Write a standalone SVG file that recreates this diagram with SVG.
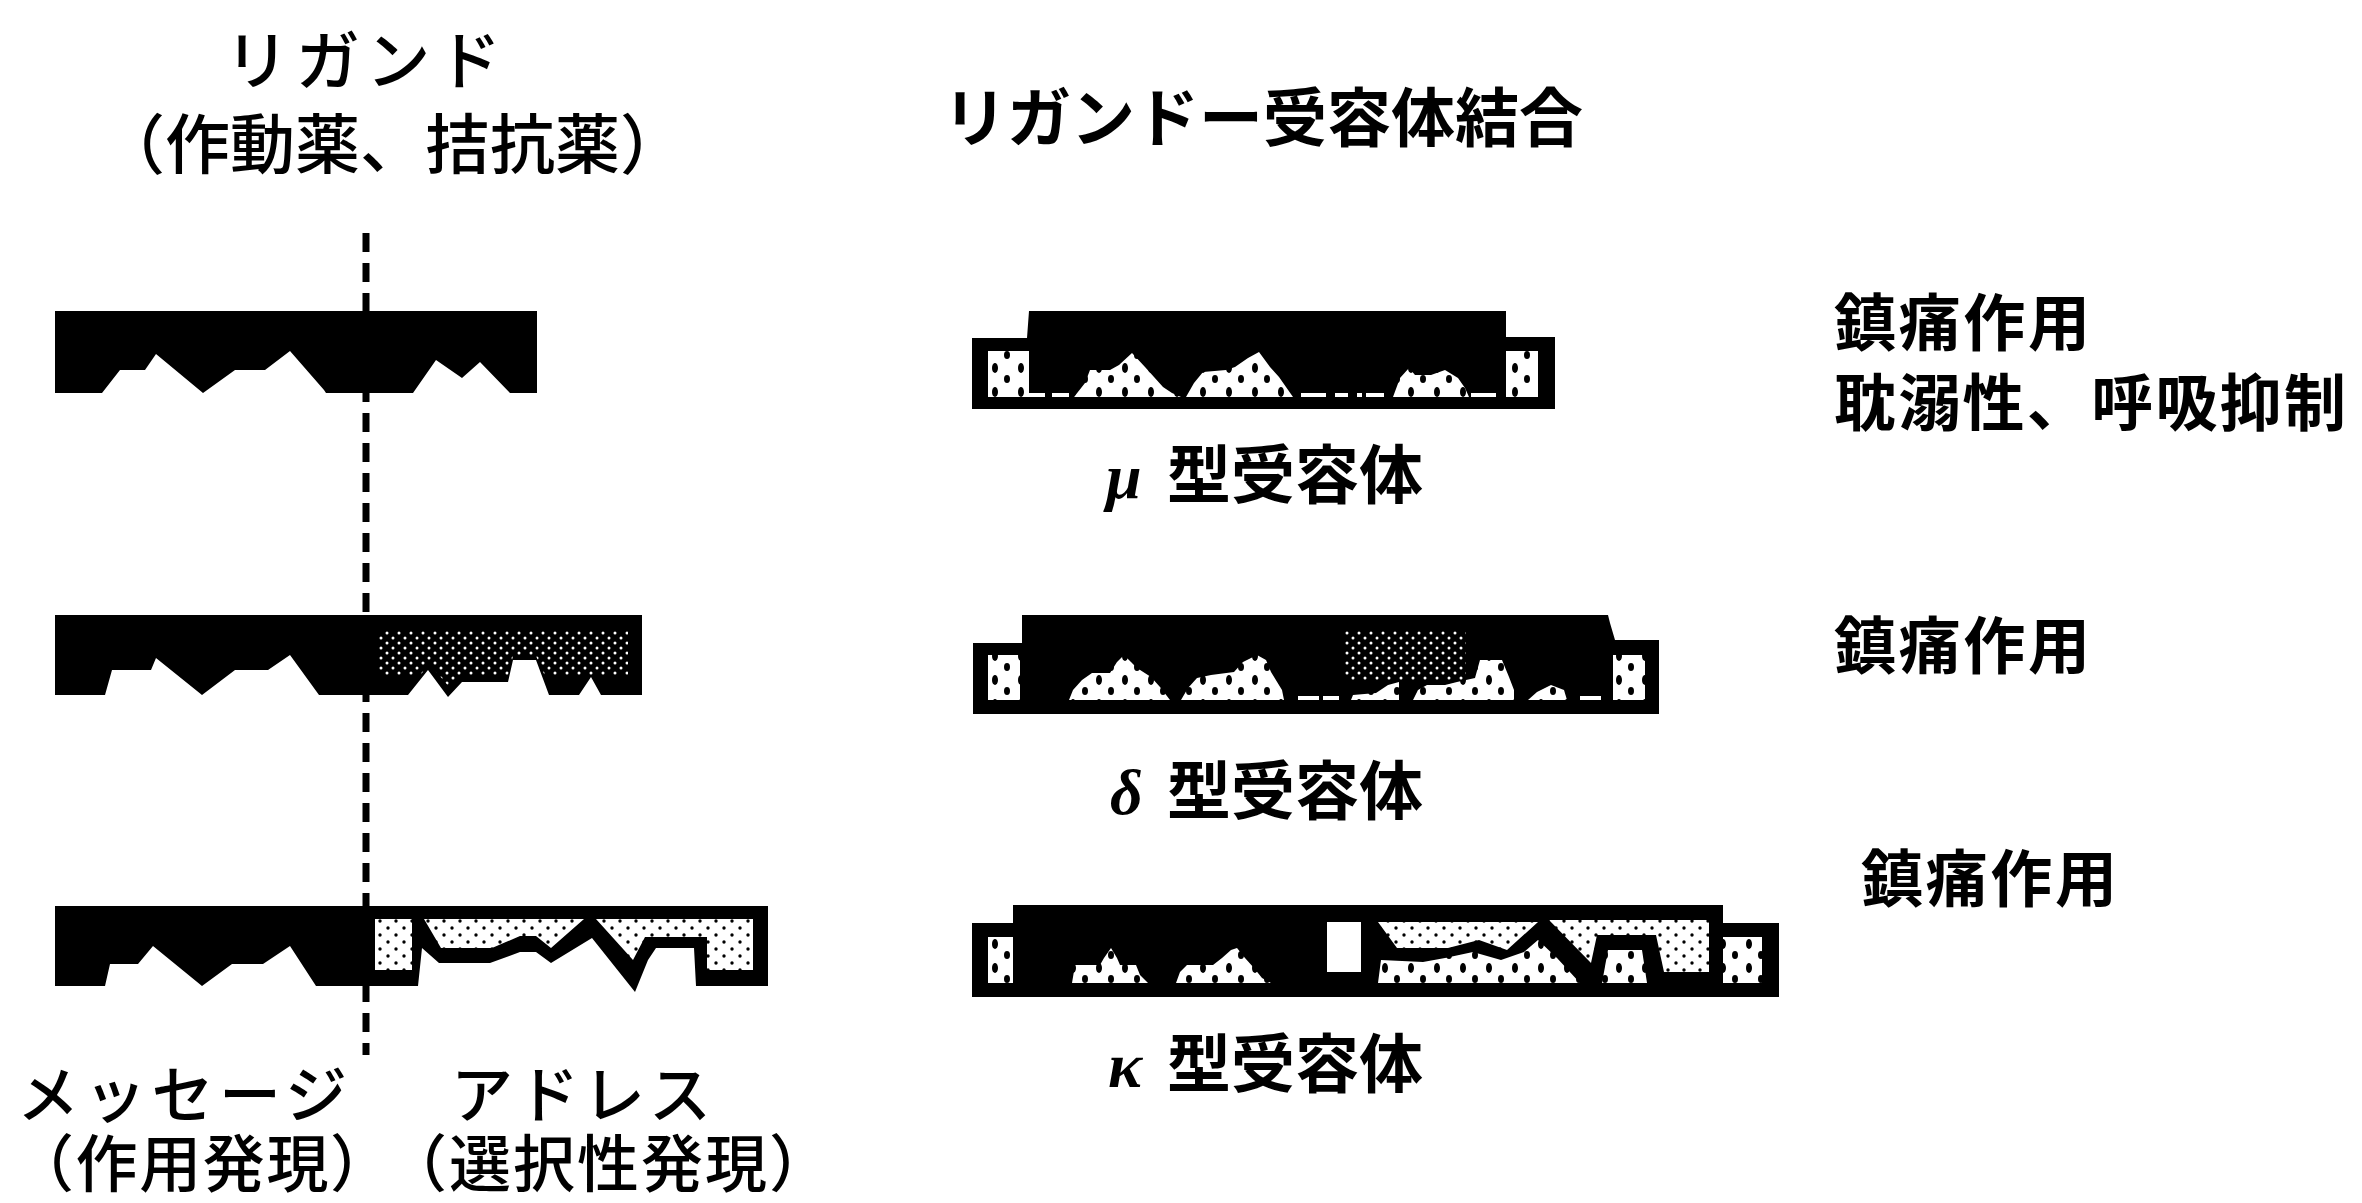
<svg xmlns="http://www.w3.org/2000/svg" width="2362" height="1203" viewBox="0 0 2362 1203">
<defs>
<style>
.jp { font-family: 'Noto Sans CJK JP', 'Noto Sans CJK SC', sans-serif; fill: #000; }
.light { font-weight: 500; }
.heavy { font-weight: 700; }
.greek { font-family: 'Liberation Serif', 'DejaVu Serif', serif; font-style: italic; font-weight: 700; }
.solid { fill: #000; }
.site { fill: url(#spots); }
.pale { fill: url(#pale-stipple); }
.dark { fill: url(#dark-stipple); }
.gap { fill: #fff; }
.divider { stroke: #000; stroke-width: 7; stroke-dasharray: 19 11; fill: none; }
</style>
<pattern id="dark-stipple" width="12" height="10" patternUnits="userSpaceOnUse">
<rect width="12" height="10" fill="#000"/>
<circle cx="3" cy="3" r="1.5" fill="#fff"/>
<circle cx="9" cy="8" r="1.5" fill="#fff"/>
</pattern>
<pattern id="pale-stipple" width="16" height="14" patternUnits="userSpaceOnUse">
<rect width="16" height="14" fill="#fff"/>
<circle cx="4" cy="4" r="1.7" fill="#000"/>
<circle cx="12" cy="11" r="1.7" fill="#000"/>
</pattern>
<pattern id="spots" width="26" height="24" patternUnits="userSpaceOnUse">
<rect width="26" height="24" fill="#fff"/>
<ellipse cx="7" cy="8" rx="3" ry="5" fill="#000"/>
<ellipse cx="19" cy="19" rx="3" ry="4" fill="#000"/>
</pattern>
</defs>

<rect width="2362" height="1203" fill="#fff"/>

<!-- headings -->
<g id="heading-ligand">
<text class="jp light" x="225" y="84" font-size="64" textLength="276" lengthAdjust="spacing">リガンド</text>
<text class="jp light" x="100" y="168" font-size="65" textLength="585" lengthAdjust="spacing">（作動薬、拮抗薬）</text>
</g>
<g id="heading-binding">
<text class="jp heavy" x="943" y="141" font-size="64" textLength="640" lengthAdjust="spacing">リガンドー受容体結合</text>
</g>

<!-- message / address divider -->
<g id="divider">
<line class="divider" x1="366" y1="233" x2="366" y2="1055"/>
</g>

<!-- ligand 1: message + address both solid -->
<g id="ligand-1">
<polygon class="solid" points="55,311 537,311 537,393 510,393 480,362 462,378 436,360 413,393 326,393 324,390 290,351 265,370 235,370 203,393 156,354 145,370 120,370 102,393 55,393"/>
</g>

<!-- ligand 2: address part shaded -->
<g id="ligand-2">
<polygon class="solid" points="55,615 642,615 642,695 601,695 591,677 579,695 549,695 536,660 513,660 508,682 462,682 448,697 428,670 408,695 319,695 290,655 268,670 235,670 202,695 156,658 151,670 112,670 105,695 55,695"/>
<polygon class="dark" points="378,630 628,630 628,676 545,676 536,656 513,656 508,676 462,676 450,688 429,663 420,676 378,676"/>
</g>

<!-- ligand 3: address part outlined, light fill -->
<g id="ligand-3">
<polygon class="solid" points="55,906 768,906 768,986 696,986 694,948 656,948 648,960 635,992 592,938 551,963 536,952 520,952 490,963 439,963 422,948 418,986 316,986 290,946 263,964 232,964 202,986 153,946 138,964 110,964 105,986 55,986"/>
<rect class="pale" x="375" y="919" width="37" height="51"/>
<polygon class="pale" points="424,919 584,919 551,948 536,936 520,936 492,948 441,948"/>
<polygon class="pale" points="596,919 753,919 753,970 707,970 707,937 645,937 633,960"/>
</g>

<!-- mu receptor with bound ligand -->
<g id="receptor-mu">
<polygon class="solid" points="972,338 1027,338 1029,311 1506,311 1506,337 1555,337 1555,409 972,409"/>
<rect class="site" x="988" y="351" width="41" height="46"/>
<polygon class="site" points="1074,397 1085,383 1090,370 1110,370 1119,365 1132,353 1145,367 1154,377 1163,387 1172,393 1181,397"/>
<polygon class="site" points="1186,397 1194,383 1203,372 1226,370 1235,367 1248,358 1259,352 1270,367 1279,377 1293,397"/>
<polygon class="site" points="1393,397 1400,378 1409,368 1415,375 1431,375 1445,370 1458,378 1465,388 1469,397"/>
<rect class="site" x="1506" y="351" width="32" height="46"/>
<rect class="gap" x="1029" y="393" width="16" height="4"/>
<rect class="gap" x="1052" y="393" width="17" height="4"/>
<rect class="gap" x="1301" y="393" width="25" height="4"/>
<rect class="gap" x="1335" y="393" width="13" height="4"/>
<rect class="gap" x="1357" y="393" width="5" height="4"/>
<rect class="gap" x="1366" y="393" width="18" height="4"/>
<rect class="gap" x="1471" y="393" width="25" height="4"/>
<text class="jp heavy" font-size="64" y="498"><tspan class="greek" x="1106">μ</tspan><tspan x="1167">型受容体</tspan></text>
</g>

<!-- delta receptor with bound ligand -->
<g id="receptor-delta">
<polygon class="solid" points="973,643 1022,643 1022,615 1608,615 1610,623 1615,640 1659,640 1659,714 973,714"/>
<rect class="dark" x="1344" y="630" width="122" height="50"/>
<rect class="site" x="988" y="655" width="32" height="45"/>
<polygon class="site" points="1069,700 1073,690 1082,680 1092,673 1110,673 1117,662 1124,655 1131,662 1137,668 1151,677 1160,687 1170,700"/>
<polygon class="site" points="1181,700 1188,688 1197,678 1211,675 1234,672 1243,662 1257,655 1266,660 1271,672 1282,690 1284,700"/>
<polygon class="site" points="1351,700 1353,695 1376,693 1388,685 1399,682 1399,700"/>
<polygon class="site" points="1413,700 1418,690 1427,685 1445,685 1457,682 1475,678 1480,660 1502,660 1509,677 1514,690 1514,700"/>
<polygon class="site" points="1528,700 1537,692 1551,685 1564,690 1567,700"/>
<rect class="site" x="1613" y="655" width="32" height="45"/>
<rect class="gap" x="1298" y="696" width="21" height="4"/>
<rect class="gap" x="1323" y="696" width="16" height="4"/>
<rect class="gap" x="1580" y="696" width="21" height="4"/>
<text class="jp heavy" font-size="64" y="814"><tspan class="greek" x="1110">δ</tspan><tspan x="1167">型受容体</tspan></text>
</g>

<!-- kappa receptor with bound ligand -->
<g id="receptor-kappa">
<polygon class="solid" points="972,923 1013,923 1013,905 1723,905 1723,923 1779,923 1779,997 972,997"/>
<rect class="site" x="988" y="937" width="25" height="46"/>
<polygon class="site" points="1072,983 1075,965 1100,965 1104,958 1111,948 1117,958 1120,965 1136,965 1140,975 1148,983"/>
<polygon class="site" points="1176,983 1180,972 1187,965 1213,965 1222,958 1231,950 1237,948 1245,958 1254,968 1262,978 1271,983"/>
<polygon class="site" points="1378,983 1381,960 1423,962 1445,958 1473,952 1501,960 1524,952 1538,940 1557,958 1580,983"/>
<polygon class="site" points="1602,983 1608,950 1642,950 1647,983"/>
<rect class="site" x="1723" y="937" width="39" height="46"/>
<rect class="gap" x="1327" y="922" width="34" height="50"/>
<polygon class="pale" points="1378,922 1538,922 1507,950 1479,940 1448,948 1397,948"/>
<polygon class="pale" points="1549,920 1709,920 1709,972 1664,972 1656,935 1597,935 1591,963"/>
<text class="jp heavy" font-size="64" y="1087"><tspan class="greek" x="1108">κ</tspan><tspan x="1167">型受容体</tspan></text>
</g>

<!-- effects of each receptor -->
<g id="effect-mu">
<text class="jp heavy" x="1834" y="346" font-size="62" textLength="256" lengthAdjust="spacing">鎮痛作用</text>
<text class="jp heavy" x="1834" y="426" font-size="62" textLength="512" lengthAdjust="spacing">耽溺性、呼吸抑制</text>
</g>
<g id="effect-delta">
<text class="jp heavy" x="1834" y="669" font-size="62" textLength="256" lengthAdjust="spacing">鎮痛作用</text>
</g>
<g id="effect-kappa">
<text class="jp heavy" x="1861" y="902" font-size="62" textLength="256" lengthAdjust="spacing">鎮痛作用</text>
</g>

<!-- bottom captions -->
<g id="caption-message">
<text class="jp light" x="17" y="1118" font-size="62" textLength="330" lengthAdjust="spacing">メッセージ</text>
<text class="jp light" x="12" y="1187" font-size="62" textLength="380" lengthAdjust="spacing">（作用発現）</text>
</g>
<g id="caption-address">
<text class="jp light" x="451" y="1118" font-size="62" textLength="260" lengthAdjust="spacing">アドレス</text>
<text class="jp light" x="385" y="1187" font-size="62" textLength="446" lengthAdjust="spacing">（選択性発現）</text>
</g>
</svg>
